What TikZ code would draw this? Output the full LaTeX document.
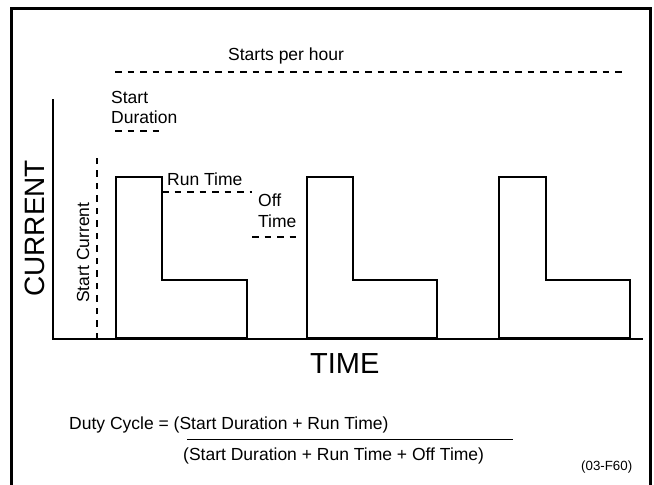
\documentclass[tikz,border=0pt]{standalone}
\usepackage{fontspec}
\setmainfont{Liberation Sans}
\usepackage{tikz}
\usetikzlibrary{arrows.meta}
\usetikzlibrary{positioning}
\tikzset{
frame line/.style = { draw = black, line width = 3pt },
axis line/.style = { draw = black, line width = 1.4pt },
mark line/.style = { draw = black, line width = 1.1pt, dash pattern = on 6.5pt off 6pt },
small label/.style = { anchor = base west, inner sep = 0pt, font = \fontsize{17.5}{20}\selectfont },
big label/.style = { anchor = base west, inner sep = 0pt, font = \fontsize{29}{32}\selectfont },
}
\tikzset{
pics/pulse/.style args={#1, #2}{
        code = {
        \path[draw = black, line width = 2.6pt, line join = miter] (0, 0) -- (0, -161) -- (#1, -161) -- (#1, -58) -- (#2, -58) -- (#2, 0) -- cycle;
        }
    }
}

\begin{document}
\begin{tikzpicture}[x = 1pt, y = -1pt]
    \useasboundingbox (0, 0) rectangle (654, 485);
    \path[frame line] (11, 486) -- (11, 8) -- (650, 8) -- (650, 486);
    % axes
    \path[axis line] (53, 99) -- (53, 339) -- (643, 339);
    % pulses
    \draw pic at (116, 338) {pulse = {46, 131}};
    \draw pic at (307, 338) {pulse = {46, 130}};
    \draw pic at (499, 338) {pulse = {47, 131}};
    % dashed marks
    \path[mark line] (115, 72) -- (626, 72);
    \path[mark line] (115, 131) -- (165, 131);
    \path[mark line] (97, 339) -- (97, 155);
    \path[mark line] (162, 192) -- (252, 192);
    \path[mark line] (252, 237) -- (302, 237);
    % labels
    \node[small label] (starts) at (228, 60) {Starts per hour};
    \node[small label] (startdur) at (111, 103) {Start};
    \node[small label] (duration) at (111, 123) {Duration};
    \node[small label] (runtime) at (167, 185) {Run Time};
    \node[small label] (off) at (258, 206) {Off};
    \node[small label] (offtime) at (258, 227) {Time};
    \node[small label, rotate = 90] (startcur) at (89, 303) {Start Current};
    \node[big label, rotate = 90, font = \fontsize{28}{30}\selectfont] (current) at (45, 297) {CURRENT};
    \node[big label] (time) at (310, 373) {TIME};
    % duty cycle
    \node[small label] (numer) at (69, 429) {Duty Cycle = (Start Duration + Run Time)};
    \path[draw = black, line width = 1pt] (187, 439) -- (513, 439);
    \node[small label] (denom) at (183, 460) {(Start Duration + Run Time + Off Time)};
    \node[small label, font = \fontsize{13.3}{15}\selectfont] (figno) at (581, 470) {(03-F60)};
\end{tikzpicture}
\end{document}
